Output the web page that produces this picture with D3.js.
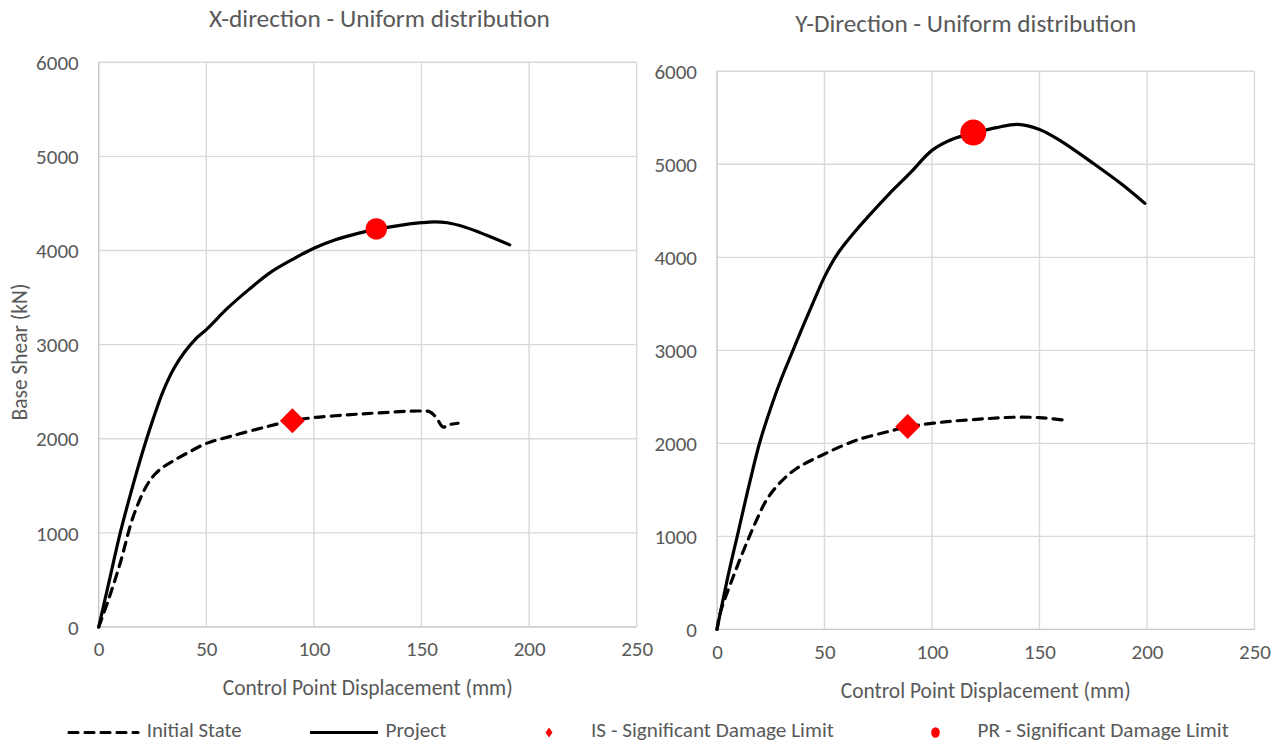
<!DOCTYPE html>
<html>
<head>
<meta charset="utf-8">
<script src="https://cdn.jsdelivr.net/npm/d3@7"></script>
<style>
  html, body { margin: 0; padding: 0; background: #fff; }
  svg { display: block; }
  text { font-family: Carlito, Calibri, Lato, "Open Sans", sans-serif; fill: #595959; }
</style>
</head>
<body>
<svg id="chart" width="1279" height="744"></svg>
<script>
// ---------------- DATA ----------------
const xTicks = [0, 50, 100, 150, 200, 250];
const yTicks = [0, 1000, 2000, 3000, 4000, 5000, 6000];

// X-direction - Uniform distribution
const xInitialDisp  = [0, 5, 10, 16, 22, 26, 30, 35, 41, 50, 62, 78, 90, 100, 115, 130, 149, 154, 157, 160, 163, 167];
const xInitialShear = [0, 320, 680, 1170, 1490, 1620, 1700, 1770, 1846, 1950, 2030, 2128, 2192, 2225, 2253, 2275, 2295, 2285, 2220, 2125, 2150, 2165];
const xProjectDisp  = [0, 5, 10, 15, 20, 25, 30, 35, 40, 45, 50, 60, 70, 80, 90, 100, 110, 120, 130, 140, 150, 156, 162, 170, 180, 191];
const xProjectShear = [0, 500, 1000, 1430, 1830, 2190, 2510, 2750, 2925, 3060, 3160, 3390, 3590, 3770, 3905, 4025, 4115, 4180, 4230, 4268, 4296, 4305, 4295, 4250, 4165, 4060];
const xISLimit = [90, 2192];
const xPRLimit = [129, 4230];

// Y-Direction - Uniform distribution
const yInitialDisp  = [0, 1.4, 7.6, 13.8, 18.5, 23, 29, 37, 49, 65, 82, 89, 107, 125, 138, 150, 161];
const yInitialShear = [0, 170, 570, 930, 1180, 1390, 1570, 1730, 1875, 2035, 2140, 2180, 2233, 2265, 2281, 2277, 2252];
const yProjectDisp  = [0, 5, 10, 15, 20, 25, 30, 35, 40, 45, 50, 55, 60, 65, 70, 80, 90, 100, 110, 120, 130, 140, 150, 160, 175, 188, 199];
const yProjectShear = [0, 560, 1060, 1560, 2020, 2380, 2700, 2980, 3260, 3530, 3790, 4000, 4160, 4300, 4430, 4680, 4910, 5150, 5275, 5340, 5395, 5430, 5375, 5250, 5010, 4790, 4580];
const yISLimit = [88.7, 2180];
const yPRLimit = [119.2, 5341];

const titles = ["X-direction - Uniform distribution", "Y-Direction - Uniform distribution"];
const xAxisTitle = "Control Point Displacement (mm)";
const yAxisTitle = "Base Shear (kN)";
const legendLabels = ["Initial State", "Project", "IS - Significant Damage Limit", "PR - Significant Damage Limit"];

// ---------------- DRAW ----------------
const svg = d3.select("#chart");
const zip = (a, b) => a.map((v, i) => [v, b[i]]);

function fitText(sel, target) {
  const node = sel.node();
  const fs = parseFloat(sel.attr("font-size"));
  const w = node.getComputedTextLength();
  if (w > 0) sel.attr("font-size", (fs * target / w).toFixed(2));
  return sel;
}

// measure fitted sizes
const tmp = svg.append("text").attr("font-size", 18).text("6000");
fitText(tmp, 42.6);
const tickFs = +tmp.attr("font-size");
tmp.text(xAxisTitle).attr("font-size", 18);
fitText(tmp, 290);
const axisTitleFs = +tmp.attr("font-size");
tmp.remove();

const panels = [
  { xr: [98.7, 636.7], yr: [627, 62.3], title: titles[0], titleX: 379.5, titleY: 26.7, xtY: 694.5, yTitle: true,
    initial: zip(xInitialDisp, xInitialShear), project: zip(xProjectDisp, xProjectShear), is: xISLimit, pr: xPRLimit, prR: 10.7 },
  { xr: [717, 1254.5], yr: [629.4, 71.3], title: titles[1], titleX: 965.8, titleY: 31.7, xtY: 698, yTitle: false,
    initial: zip(yInitialDisp, yInitialShear), project: zip(yProjectDisp, yProjectShear), is: yISLimit, pr: yPRLimit, prR: 13 }
];

panels.forEach(p => {
  const x = d3.scaleLinear().domain([0, 250]).range(p.xr);
  const y = d3.scaleLinear().domain([0, 6000]).range(p.yr);
  const g = svg.append("g");

  // gridlines
  g.append("g").selectAll("line.h").data(yTicks).join("line")
    .attr("x1", p.xr[0]).attr("x2", p.xr[1])
    .attr("y1", d => y(d)).attr("y2", d => y(d))
    .attr("stroke", d => d === 0 ? "#c6c6c6" : "#d9d9d9").attr("stroke-width", 1.4);
  g.append("g").selectAll("line.v").data(xTicks).join("line")
    .attr("x1", d => x(d)).attr("x2", d => x(d))
    .attr("y1", p.yr[0]).attr("y2", p.yr[1])
    .attr("stroke", d => d === 0 ? "#c6c6c6" : "#d9d9d9").attr("stroke-width", 1.4);

  // axes (labels only)
  const yAxis = d3.axisLeft(y).tickValues(yTicks).tickSize(0).tickPadding(0).tickFormat(d3.format("d"));
  const ya = g.append("g").attr("transform", `translate(${p.xr[0] - 20},0)`).call(yAxis);
  ya.select(".domain").remove();
  ya.selectAll("text").attr("font-size", tickFs).attr("fill", "#595959")
    .attr("font-family", "Carlito, Calibri, Lato, 'Open Sans', sans-serif").attr("dy", "0.34em");

  const xAxis = d3.axisBottom(x).tickValues(xTicks).tickSize(0).tickPadding(0).tickFormat(d3.format("d"));
  const xa = g.append("g").attr("transform", `translate(0,${p.yr[0] + 22})`).call(xAxis);
  xa.select(".domain").remove();
  xa.selectAll("text").attr("font-size", tickFs).attr("fill", "#595959")
    .attr("font-family", "Carlito, Calibri, Lato, 'Open Sans', sans-serif").attr("dy", "0.34em").attr("y", 0);

  // title
  const t = g.append("text").attr("x", p.titleX).attr("y", p.titleY).attr("text-anchor", "middle")
    .attr("font-size", 22).text(p.title);
  fitText(t, 341);

  // x axis title
  g.append("text").attr("x", (p.xr[0] + p.xr[1]) / 2).attr("y", p.xtY).attr("text-anchor", "middle")
    .attr("font-size", axisTitleFs).text(xAxisTitle);

  if (p.yTitle) {
    g.append("text").attr("transform", "translate(26.5,352) rotate(-90)")
      .attr("text-anchor", "middle").attr("font-size", axisTitleFs).text(yAxisTitle);
  }

  const line = d3.line().x(d => x(d[0])).y(d => y(d[1])).curve(d3.curveCatmullRom.alpha(0.5));

  g.append("path").datum(p.initial).attr("d", line).attr("fill", "none")
    .attr("stroke", "#000").attr("stroke-width", 3.2).attr("stroke-dasharray", "9,7").attr("stroke-linecap", "round");
  g.append("path").datum(p.project).attr("d", line).attr("fill", "none")
    .attr("stroke", "#000").attr("stroke-width", 3.2).attr("stroke-linecap", "round");

  // markers
  g.append("path").attr("d", "M0,-12.5L12.5,0L0,12.5L-12.5,0Z")
    .attr("transform", `translate(${x(p.is[0])},${y(p.is[1])})`).attr("fill", "#ff0000");
  g.append("circle").attr("cx", x(p.pr[0])).attr("cy", y(p.pr[1])).attr("r", p.prR).attr("fill", "#ff0000");
});

// ---------------- LEGEND ----------------
const lg = svg.append("g");
const ly = 732.5, lty = 737;
lg.append("line").attr("x1", 69).attr("x2", 138).attr("y1", ly).attr("y2", ly)
  .attr("stroke", "#000").attr("stroke-width", 3.2).attr("stroke-dasharray", "9,7").attr("stroke-linecap", "round");
lg.append("line").attr("x1", 310).attr("x2", 378).attr("y1", ly).attr("y2", ly)
  .attr("stroke", "#000").attr("stroke-width", 3.2);
lg.append("path").attr("d", "M0,-5L3.5,0L0,5L-3.5,0Z").attr("transform", `translate(549,${ly})`).attr("fill", "#ff0000");
lg.append("ellipse").attr("cx", 935.5).attr("cy", ly).attr("rx", 4.3).attr("ry", 5.3).attr("fill", "#ff0000");

const legendPos = [[146.7, 95], [385.5, 61], [591, 243], [977.5, 251.5]];
legendLabels.forEach((s, i) => {
  const t = lg.append("text").attr("x", legendPos[i][0]).attr("y", lty).attr("font-size", 18).text(s);
  fitText(t, legendPos[i][1]);
});
</script>
</body>
</html>
